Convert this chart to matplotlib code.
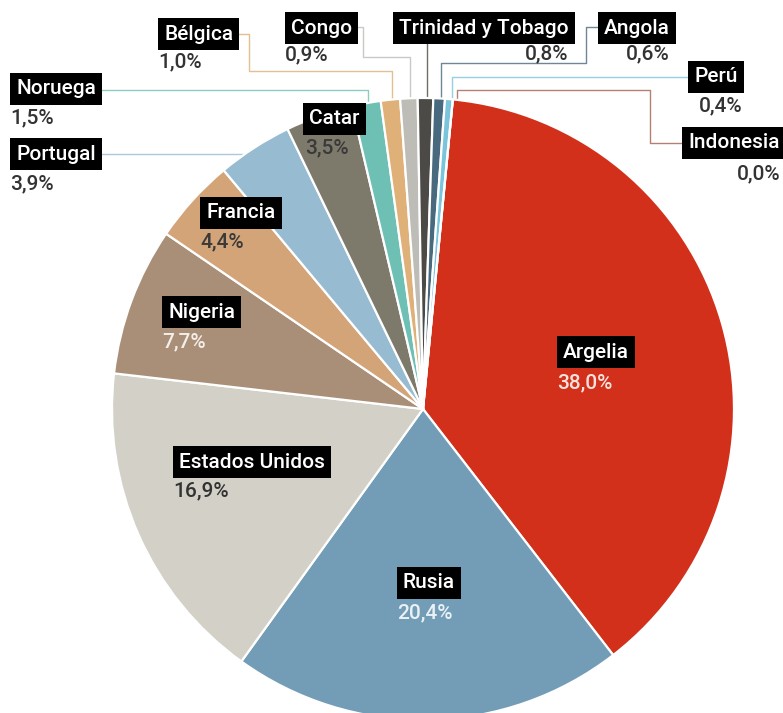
import matplotlib.pyplot as plt

plt.rcParams['font.family'] = ['Roboto', 'DejaVu Sans']

# Data (percent share), clockwise from the top-right
countries = ['Argelia', 'Rusia', 'Estados Unidos', 'Nigeria', 'Francia', 'Portugal',
             'Catar', 'Noruega', 'Bélgica', 'Congo', 'Trinidad y Tobago', 'Angola',
             'Perú', 'Indonesia']
shares = [38.0, 20.4, 16.9, 7.7, 4.4, 3.9, 3.5, 1.5, 1.0, 0.9, 0.8, 0.6, 0.4, 0.0]
pct_labels = ['38,0%', '20,4%', '16,9%', '7,7%', '4,4%', '3,9%', '3,5%', '1,5%',
              '1,0%', '0,9%', '0,8%', '0,6%', '0,4%', '0,0%']

colors = ['#D2301B', '#739DB7', '#D3D1C7', '#A98F78', '#D4A479', '#97BBD1',
          '#7D796B', '#6EC0B4', '#DFB077', '#BDBCB7', '#4B4A46', '#48697E',
          '#7BC5DC', '#A0604E']

W, H = 783, 713
fig = plt.figure(figsize=(W / 100, H / 100), dpi=100)
ax = fig.add_axes([0, 0, 1, 1])

# pixel-like coords, y axis inverted -> angles are mirrored
cx, cy, r = 423, 409, 311
ax.pie(shares, colors=colors, startangle=-84.5, counterclock=True,
       center=(cx, cy), radius=r,
       wedgeprops=dict(edgecolor='white', linewidth=1.6))
ax.set_xlim(0, W)
ax.set_ylim(H, 0)
ax.set_aspect('equal')
ax.axis('off')

# label layout: (box left x, box centre y, pct x, pct y, pct align, pct colour)
layout = {
    'Argelia': (557, 352, 557, 383, 'left', '#F7E2DC'),
    'Rusia': (397, 583, 397, 613, 'left', '#EAF1F5'),
    'Estados Unidos': (173, 462, 173, 491, 'left', '#333333'),
    'Nigeria': (162, 312, 162, 342, 'left', '#F4EEE8'),
    'Francia': (200, 213, 200, 242, 'left', '#3A3A3A'),
    'Portugal': (10, 154, 10, 184, 'left', '#333333'),
    'Catar': (303, 119, 305, 148, 'left', '#3A3A3A'),
    'Noruega': (10, 89, 10, 118, 'left', '#333333'),
    'Bélgica': (158, 34, 158, 62, 'left', '#333333'),
    'Congo': (285, 28, 285, 55, 'left', '#333333'),
    'Trinidad y Tobago': (393, 28, 568, 54, 'right', '#333333'),
    'Angola': (598, 28, 670, 54, 'right', '#333333'),
    'Perú': (688, 77, 699, 106, 'left', '#333333'),
    'Indonesia': (682, 143, 780, 174, 'right', '#333333'),
}

# connector lines for the small slices
connectors = {
    'Noruega': [(97, 90), (368, 90), (368, 110)],
    'Portugal': [(100, 154), (250, 154)],
    'Bélgica': [(239, 34), (249, 34), (249, 71), (392, 71), (392, 110)],
    'Congo': [(353, 27), (363, 27), (363, 57), (410, 57), (410, 110)],
    'Trinidad y Tobago': [(427, 43), (427, 110)],
    'Angola': [(598, 27), (586, 27), (586, 63), (441, 63), (441, 110)],
    'Perú': [(688, 77), (452, 77), (452, 110)],
    'Indonesia': [(682, 143), (650, 143), (650, 90), (457, 90), (457, 110)],
}

for name, col in zip(countries, colors):
    if name in connectors:
        xs, ys = zip(*connectors[name])
        ax.plot(xs, ys, color=col, lw=1, alpha=0.8, zorder=0)

for name, pct in zip(countries, pct_labels):
    bx, by, px, py, pa, pc = layout[name]
    ax.text(bx + 6, by, name, color='white', fontsize=15, fontweight='medium',
            ha='left', va='center',
            bbox=dict(facecolor='black', edgecolor='none', boxstyle='square,pad=0.3'),
            zorder=5)
    ax.text(px, py, pct, color=pc, fontsize=15, fontweight='medium',
            ha=pa, va='center', zorder=5)

fig.savefig('out.png', dpi=100)
